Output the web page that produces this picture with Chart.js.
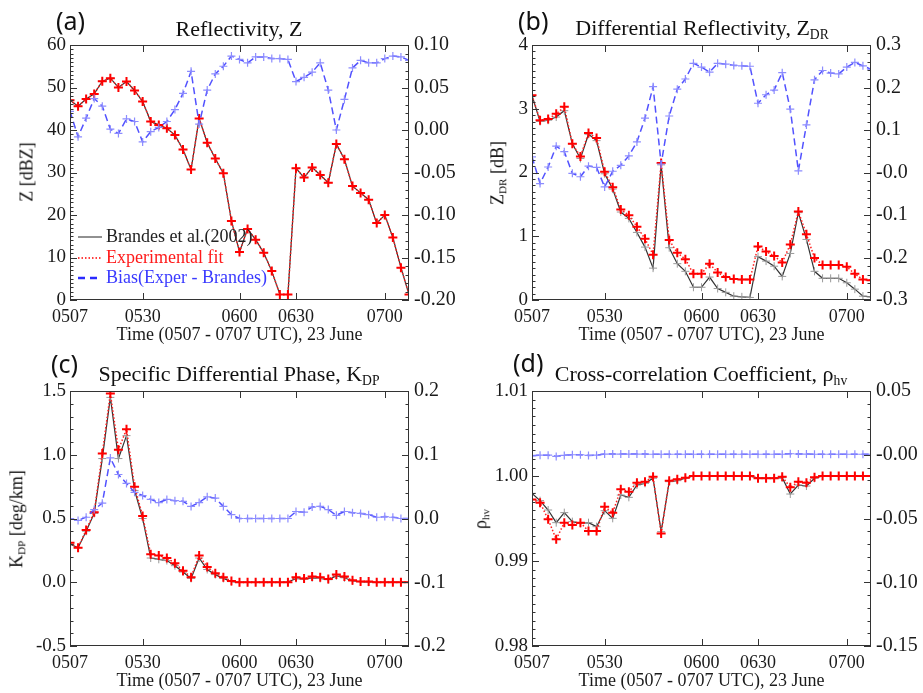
<!DOCTYPE html>
<html>
<head>
<meta charset="utf-8">
<script src="https://cdn.jsdelivr.net/npm/chart.js@4/dist/chart.umd.min.js"></script>
<style>
  body { margin: 0; background: #fff; }
  #wrap { position: relative; width: 923px; height: 693px; overflow: hidden; }
  .panel { position: absolute; width: 461px; height: 346px; }
  .panel canvas { position: absolute; left: 0; top: 0; }
  .tag { position: absolute; font-family: "Noto Sans", sans-serif; font-size: 25px; color: #111; line-height: 1; }
  .ttl { position: absolute; font-family: "Liberation Serif", serif; font-size: 22px; color: #111; transform: translate(-50%, -50%); white-space: nowrap; }
  .ylab { position: absolute; font-family: "Liberation Serif", serif; font-size: 18px; color: #111; transform: translate(-50%, -50%) rotate(-90deg); white-space: nowrap; }
  sub { font-size: 0.62em; vertical-align: -0.3em; }
</style>
</head>
<body>
<div id="wrap">
  <div class="panel" style="left:0;top:0">
    <canvas id="cZ" width="461" height="346"></canvas>
    <div class="tag" style="left:56px;top:8px">(a)</div>
    <div class="ttl" style="left:239px;top:29px">Reflectivity, Z</div>
    <div class="ylab" style="left:27px;top:172px">Z [dBZ]</div>
  </div>
  <div class="panel" style="left:462px;top:0">
    <canvas id="cZdr" width="461" height="346"></canvas>
    <div class="tag" style="left:56px;top:8px">(b)</div>
    <div class="ttl" style="left:240px;top:29px">Differential Reflectivity, Z<sub>DR</sub></div>
    <div class="ylab" style="left:36px;top:173px">Z<sub>DR</sub> [dB]</div>
  </div>
  <div class="panel" style="left:0;top:346px">
    <canvas id="cKdp" width="461" height="346"></canvas>
    <div class="tag" style="left:51px;top:5px">(c)</div>
    <div class="ttl" style="left:239px;top:29px">Specific Differential Phase, K<sub>DP</sub></div>
    <div class="ylab" style="left:17px;top:173px">K<sub>DP</sub> [deg/km]</div>
  </div>
  <div class="panel" style="left:462px;top:346px">
    <canvas id="cRho" width="461" height="346"></canvas>
    <div class="tag" style="left:51px;top:4px">(d)</div>
    <div class="ttl" style="left:239px;top:29px">Cross-correlation Coefficient, ρ<sub>hv</sub></div>
    <div class="ylab" style="left:19px;top:173px">ρ<sub>hv</sub></div>
  </div>
</div>

<script>
// scan times 0507 - 0707 UTC, 43 scans; labelled scans only
const timeTickIdx = [0, 9, 21, 28, 39];
const timeTickLabels = ['0507', '0530', '0600', '0630', '0700'];
const scanCount = 43;

// (a) reflectivity [dBZ] and bias
const zBrandes = [47.0, 45.6, 47.3, 48.5, 51.5, 52.2, 50.0, 51.4, 49.3, 46.7, 42.0, 41.2, 40.4, 38.8, 35.4, 30.7, 42.7, 37.0, 33.3, 29.8, 18.6, 11.3, 16.7, 14.2, 11.1, 6.8, 1.3, 1.3, 31.0, 28.8, 31.2, 29.4, 27.6, 36.7, 33.1, 26.8, 25.2, 23.6, 18.1, 20.0, 14.7, 7.6, 1.3];
const zFit = [47.0, 45.6, 47.3, 48.5, 51.5, 52.2, 50.0, 51.4, 49.3, 46.7, 42.0, 41.2, 40.4, 38.8, 35.4, 30.7, 42.7, 37.0, 33.3, 29.8, 18.6, 11.3, 16.7, 14.2, 11.1, 6.8, 1.3, 1.3, 31.0, 28.8, 31.2, 29.4, 27.6, 36.7, 33.1, 26.8, 25.2, 23.6, 18.1, 20.0, 14.7, 7.6, 1.3];
const zBias = [0.022, -0.008, 0.014, 0.037, 0.028, 0.001, -0.004, 0.013, 0.010, -0.014, -0.002, 0.003, 0.010, 0.024, 0.043, 0.069, 0.007, 0.047, 0.066, 0.075, 0.087, 0.083, 0.079, 0.086, 0.086, 0.084, 0.084, 0.083, 0.057, 0.062, 0.068, 0.079, 0.047, 0.000, 0.036, 0.073, 0.082, 0.079, 0.079, 0.084, 0.087, 0.086, 0.082];
const zTicks = [0, 10, 20, 30, 40, 50, 60];
const zTickLabels = ['0', '10', '20', '30', '40', '50', '60'];
const zBiasTicks = [-0.20, -0.15, -0.10, -0.05, 0.00, 0.05, 0.10];
const zBiasTickLabels = ['-0.20', '-0.15', '-0.10', '-0.05', '0.00', '0.05', '0.10'];

// (b) differential reflectivity [dB] and bias
const zdrBrandes = [3.21, 2.80, 2.82, 2.87, 2.97, 2.45, 2.22, 2.60, 2.50, 1.98, 1.74, 1.38, 1.28, 1.06, 0.83, 0.50, 2.12, 0.82, 0.57, 0.45, 0.20, 0.20, 0.36, 0.18, 0.12, 0.06, 0.05, 0.04, 0.68, 0.61, 0.53, 0.37, 0.73, 1.37, 0.95, 0.45, 0.34, 0.34, 0.34, 0.27, 0.17, 0.06, 0.05];
const zdrFit = [3.21, 2.82, 2.84, 2.92, 3.03, 2.45, 2.25, 2.62, 2.54, 2.01, 1.77, 1.42, 1.33, 1.15, 0.96, 0.71, 2.15, 0.94, 0.74, 0.64, 0.41, 0.41, 0.57, 0.43, 0.36, 0.33, 0.32, 0.32, 0.84, 0.76, 0.69, 0.59, 0.87, 1.39, 1.03, 0.66, 0.55, 0.55, 0.55, 0.52, 0.41, 0.32, 0.31];
const zdrBias = [0.037, -0.026, 0.013, 0.062, 0.049, -0.002, -0.010, 0.015, 0.012, -0.034, 0.003, 0.017, 0.039, 0.072, 0.128, 0.202, 0.020, 0.133, 0.196, 0.220, 0.257, 0.248, 0.236, 0.257, 0.255, 0.252, 0.251, 0.250, 0.163, 0.183, 0.194, 0.235, 0.149, 0.004, 0.112, 0.218, 0.240, 0.234, 0.232, 0.248, 0.259, 0.251, 0.243];
const zdrTicks = [0, 1, 2, 3, 4];
const zdrTickLabels = ['0', '1', '2', '3', '4'];
const zdrBiasTicks = [-0.3, -0.2, -0.1, 0.0, 0.1, 0.2, 0.3];
const zdrBiasTickLabels = ['-0.3', '-0.2', '-0.1', '-0.0', '0.1', '0.2', '0.3'];

// (c) specific differential phase [deg/km] and bias
const kdpBrandes = [0.30, 0.27, 0.40, 0.54, 0.97, 1.45, 0.97, 1.15, 0.72, 0.50, 0.19, 0.18, 0.17, 0.13, 0.08, 0.03, 0.19, 0.10, 0.06, 0.03, 0.005, 0, 0, 0, 0, 0, 0, 0, 0.03, 0.025, 0.035, 0.03, 0.02, 0.05, 0.035, 0.01, 0.005, 0, 0, 0, 0, 0, 0];
const kdpFit = [0.31, 0.27, 0.41, 0.55, 1.01, 1.48, 1.04, 1.20, 0.75, 0.52, 0.22, 0.21, 0.19, 0.15, 0.09, 0.04, 0.21, 0.12, 0.07, 0.04, 0.01, 0, 0, 0, 0, 0, 0, 0, 0.04, 0.03, 0.045, 0.04, 0.025, 0.06, 0.045, 0.015, 0.005, 0.005, 0, 0, 0, 0, 0];
const kdpBias = [0.000, -0.003, 0.002, 0.014, 0.024, 0.095, 0.069, 0.055, 0.041, 0.036, 0.030, 0.025, 0.030, 0.028, 0.027, 0.019, 0.025, 0.034, 0.032, 0.019, 0.006, 0, 0, 0, 0, 0, 0, 0, 0.011, 0.010, 0.018, 0.019, 0.014, 0.005, 0.011, 0.009, 0.008, 0.006, 0.002, 0.003, 0.002, 0, 0];
const kdpTicks = [-0.5, 0.0, 0.5, 1.0, 1.5];
const kdpTickLabels = ['-0.5', '0.0', '0.5', '1.0', '1.5'];
const kdpBiasTicks = [-0.2, -0.1, 0.0, 0.1, 0.2];
const kdpBiasTickLabels = ['-0.2', '-0.1', '0.0', '0.1', '0.2'];

// (d) cross-correlation coefficient and bias
const rhoBrandes = [0.99796, 0.99710, 0.99600, 0.99451, 0.99569, 0.99463, 0.99443, 0.99451, 0.99404, 0.99592, 0.99502, 0.99776, 0.99749, 0.99894, 0.99914, 0.99973, 0.99345, 0.99933, 0.99945, 0.99973, 1, 1, 1, 1, 1, 1, 1, 1, 0.99975, 0.99975, 0.99975, 0.99980, 0.99788, 0.99894, 0.99882, 0.99973, 1, 1, 1, 1, 1, 1, 1];
const rhoFit = [0.99725, 0.99686, 0.99490, 0.99255, 0.99451, 0.99424, 0.99451, 0.99353, 0.99353, 0.99639, 0.99569, 0.99843, 0.99816, 0.99922, 0.99933, 0.99992, 0.99325, 0.99945, 0.99961, 0.99980, 1, 1, 1, 1, 1, 1, 1, 1, 0.99973, 0.99973, 0.99973, 0.99992, 0.99867, 0.99933, 0.99922, 0.99984, 1, 1, 1, 1, 1, 1, 1];
const rhoBias = [-0.0008, -0.0003, -0.0003, -0.0013, -0.0005, 0.0000, 0.0000, -0.0005, -0.0003, 0.0005, 0.0005, 0.0005, 0.0005, 0.0005, 0.0005, 0.0004, 0.0004, 0.0004, 0.0004, 0.0004, 0.0004, 0.0004, 0.0004, 0.0004, 0.0004, 0.0004, 0.0004, 0.0004, 0.0004, 0.0004, 0.0004, 0.0004, 0.0008, 0.0006, 0.0005, 0.0004, 0.0004, 0.0004, 0.0004, 0.0004, 0.0004, 0.0004, 0.0004];
const rhoTicks = [0.98, 0.99, 1.00, 1.01];
const rhoTickLabels = ['0.98', '0.99', '1.00', '1.01'];
const rhoBiasTicks = [-0.15, -0.10, -0.05, 0.00, 0.05];
const rhoBiasTickLabels = ['-0.15', '-0.10', '-0.05', '-0.00', '0.05'];

const legendLabels = ['Brandes et al.(2002)', 'Experimental fit', 'Bias(Exper - Brandes)'];

const SERIF = '"Liberation Serif", "Times New Roman", serif';
const INK = '#1a1a1a';

// box with inward major/minor ticks on all sides
const framePlugin = {
  id: 'frame',
  afterDatasetsDraw(chart, args, opts) {
    const { ctx, chartArea: a, scales } = chart;
    ctx.save();
    ctx.strokeStyle = '#333';
    ctx.lineWidth = 1;
    ctx.strokeRect(a.left + 0.5, a.top + 0.5, a.width - 1, a.height - 1);
    ctx.beginPath();
    scales.x.ticks.forEach(t => {
      const px = Math.round(scales.x.getPixelForValue(t.value)) + 0.5;
      ctx.moveTo(px, a.bottom); ctx.lineTo(px, a.bottom - 7);
      ctx.moveTo(px, a.top); ctx.lineTo(px, a.top + 7);
    });
    const yTicks = (scale, x0, dir, minor) => {
      const vals = scale.ticks.map(t => t.value);
      vals.forEach((v, i) => {
        const py = Math.round(scale.getPixelForValue(v)) + 0.5;
        ctx.moveTo(x0, py); ctx.lineTo(x0 + dir * 7, py);
        if (i < vals.length - 1) {
          for (let k = 1; k < minor; k++) {
            const my = Math.round(scale.getPixelForValue(v + (vals[i + 1] - v) * k / minor)) + 0.5;
            ctx.moveTo(x0, my); ctx.lineTo(x0 + dir * 3.5, my);
          }
        }
      });
    };
    yTicks(scales.yL, a.left, 1, opts.minorL || 5);
    yTicks(scales.yR, a.right, -1, opts.minorR || 5);
    ctx.stroke();
    ctx.restore();
  }
};

// in-plot legend for panel (a)
const legendPlugin = {
  id: 'boxLegend',
  afterDatasetsDraw(chart, args, opts) {
    if (!opts.show) return;
    const { ctx, chartArea: a } = chart;
    const rows = [
      { color: '#222', dash: [], width: 1, text: '#222', y: 237 },
      { color: '#ff0000', dash: [1.5, 2], width: 1.5, text: '#ff1a1a', y: 258 },
      { color: '#2a2aff', dash: [7, 5], width: 2.5, text: '#3a3aff', y: 278 }
    ];
    ctx.save();
    ctx.font = '18px ' + SERIF;
    ctx.textBaseline = 'middle';
    rows.forEach((r, i) => {
      ctx.beginPath();
      ctx.setLineDash(r.dash);
      ctx.strokeStyle = r.color;
      ctx.lineWidth = r.width;
      ctx.moveTo(a.left + 8, r.y); ctx.lineTo(a.left + 32, r.y);
      ctx.stroke();
      ctx.setLineDash([]);
      ctx.fillStyle = r.text;
      ctx.fillText(legendLabels[i], a.left + 36, r.y);
    });
    ctx.restore();
  }
};

function pts(arr) {
  return arr.map((v, i) => ({ x: i, y: v }));
}

function fixedTicks(values, labels) {
  return {
    afterBuildTicks: s => { s.ticks = values.map(v => ({ value: v })); },
    ticks: {
      autoSkip: false,
      callback: (v, i) => labels[i]
    }
  };
}

function makePanel(id, brandes, fit, bias, left, right, showLegend, minorL, minorR) {
  const leftTicks = fixedTicks(left.ticks, left.labels);
  const rightTicks = fixedTicks(right.ticks, right.labels);
  const xTicks = fixedTicks(timeTickIdx, timeTickLabels);
  return new Chart(document.getElementById(id), {
    type: 'line',
    data: {
      datasets: [
        {
          label: legendLabels[2], data: pts(bias), yAxisID: 'yR',
          borderColor: '#5252ff', borderWidth: 1.5, borderDash: [7, 4],
          pointStyle: 'cross', pointRadius: 4, pointBorderWidth: 1.2,
          pointBorderColor: '#8c8cff', pointBackgroundColor: '#8c8cff', tension: 0
        },
        {
          label: legendLabels[1], data: pts(fit), yAxisID: 'yL',
          borderColor: '#ff2020', borderWidth: 1.5, borderDash: [1.5, 2],
          pointStyle: 'cross', pointRadius: 4.5, pointBorderWidth: 2,
          pointBorderColor: '#ff0000', pointBackgroundColor: '#ff0000', tension: 0
        },
        {
          label: legendLabels[0], data: pts(brandes), yAxisID: 'yL',
          borderColor: '#333', borderWidth: 1.2,
          pointStyle: 'cross', pointRadius: 4, pointBorderWidth: 1,
          pointBorderColor: '#999', pointBackgroundColor: '#999', tension: 0
        }
      ]
    },
    options: {
      responsive: false,
      animation: false,
      events: [],
      layout: { padding: { top: 45, left: 0, right: 0, bottom: 0 } },
      plugins: {
        legend: { display: false },
        tooltip: { enabled: false },
        frame: { minorL: minorL, minorR: minorR },
        boxLegend: { show: showLegend }
      },
      scales: {
        x: {
          type: 'linear', min: 0, max: scanCount - 1,
          afterBuildTicks: xTicks.afterBuildTicks,
          afterFit: s => { s.height = 46; },
          grid: { display: false, drawTicks: false },
          border: { display: false },
          ticks: { ...xTicks.ticks, maxRotation: 0, padding: 6, color: INK, font: { family: SERIF, size: 18 } },
          title: { display: true, text: 'Time (0507 - 0707 UTC), 23 June', color: INK, padding: { top: 0, bottom: 0 }, font: { family: SERIF, size: 18 } }
        },
        yL: {
          type: 'linear', position: 'left', min: left.min, max: left.max,
          afterBuildTicks: leftTicks.afterBuildTicks,
          afterFit: s => { s.width = 70; },
          grid: { display: false, drawTicks: false },
          border: { display: false },
          ticks: { ...leftTicks.ticks, padding: 4, color: INK, font: { family: SERIF, size: 19 } }
        },
        yR: {
          type: 'linear', position: 'right', min: right.min, max: right.max,
          afterBuildTicks: rightTicks.afterBuildTicks,
          afterFit: s => { s.width = 52; },
          grid: { display: false, drawTicks: false },
          border: { display: false },
          ticks: { ...rightTicks.ticks, padding: 5, color: INK, font: { family: SERIF, size: 20 } }
        }
      }
    },
    plugins: [framePlugin, legendPlugin]
  });
}

makePanel('cZ', zBrandes, zFit, zBias,
  { min: 0, max: 60, ticks: zTicks, labels: zTickLabels },
  { min: -0.2, max: 0.1, ticks: zBiasTicks, labels: zBiasTickLabels }, true, 10, 5);
makePanel('cZdr', zdrBrandes, zdrFit, zdrBias,
  { min: 0, max: 4, ticks: zdrTicks, labels: zdrTickLabels },
  { min: -0.3, max: 0.3, ticks: zdrBiasTicks, labels: zdrBiasTickLabels }, false, 10, 5);
makePanel('cKdp', kdpBrandes, kdpFit, kdpBias,
  { min: -0.5, max: 1.5, ticks: kdpTicks, labels: kdpTickLabels },
  { min: -0.2, max: 0.2, ticks: kdpBiasTicks, labels: kdpBiasTickLabels }, false, 5, 5);
makePanel('cRho', rhoBrandes, rhoFit, rhoBias,
  { min: 0.98, max: 1.01, ticks: rhoTicks, labels: rhoTickLabels },
  { min: -0.15, max: 0.05, ticks: rhoBiasTicks, labels: rhoBiasTickLabels }, false, 10, 5);
</script>
</body>
</html>
